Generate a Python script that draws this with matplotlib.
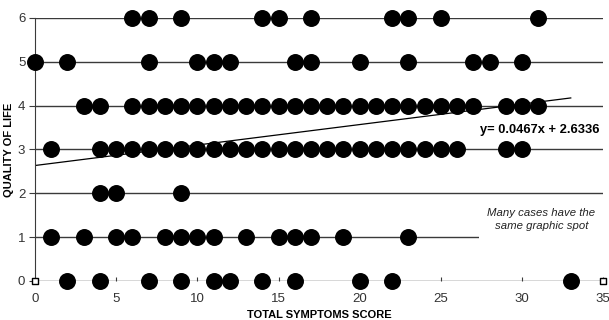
import numpy as np
import matplotlib.pyplot as plt

plt.rcParams['font.family'] = ['Liberation Sans', 'DejaVu Sans']

# symptom scores per quality-of-life level
qol_6 = [6, 7, 9, 14, 15, 17, 22, 23, 25, 31]
qol_5 = [0, 2, 7, 10, 11, 12, 16, 17, 20, 23, 27, 28, 30]
qol_4 = [3, 4] + list(range(6, 28)) + [29, 30, 31]
qol_3 = [1] + list(range(4, 27)) + [29, 30]
qol_2 = [4, 5, 9]
qol_1 = [1, 3, 5, 6, 8, 9, 10, 11, 13, 15, 16, 17, 19, 23]
qol_0 = [2, 4, 7, 9, 11, 12, 14, 16, 20, 22, 33]
rows = {6: qol_6, 5: qol_5, 4: qol_4, 3: qol_3, 2: qol_2, 1: qol_1, 0: qol_0}

slope, intercept = 0.0467, 2.6336
trend_x = [0, 33]

fig = plt.figure(figsize=(6.09, 3.2), dpi=100)
ax = fig.add_axes([0.0575, 0.122, 0.933, 0.822])

for q in range(7):
    ax.plot([0, 35], [q, q], color='#3a3a3a', lw=1.0, zorder=1)

for q, xs in rows.items():
    ax.scatter(xs, [q] * len(xs), s=125, color='black', zorder=3, clip_on=False)

ax.scatter([0, 35], [0, 0], marker='s', s=14, facecolor='white',
           edgecolor='black', lw=1, zorder=4, clip_on=False)

tx = np.array(trend_x)
ax.plot(tx, slope * tx + intercept, color='black', lw=0.9, zorder=2)

ax.text(34.75, 3.45, 'y= 0.0467x + 2.6336', ha='right', va='center',
        fontsize=9.3, fontweight='bold')
ax.text(31.2, 1.40, 'Many cases have the\nsame graphic spot', ha='center',
        va='center', fontsize=8.2, style='italic', color='#222222',
        linespacing=1.45,
        bbox=dict(facecolor='white', edgecolor='none', pad=6), zorder=5)

ax.set_xlim(0, 35)
ax.set_ylim(0, 6)
ax.set_xticks(range(0, 36, 5))
ax.set_yticks(range(0, 7))
for s in ['top', 'right', 'bottom']:
    ax.spines[s].set_visible(False)
ax.spines['left'].set_color('#3a3a3a')
ax.tick_params(axis='x', direction='in', length=3, color='#3a3a3a',
               labelsize=9.5, labelcolor='#333333', pad=9)
ax.tick_params(axis='y', direction='out', length=4, color='#3a3a3a',
               labelsize=9.5, labelcolor='#333333', pad=3)
ax.set_xlabel('TOTAL SYMPTOMS SCORE', fontsize=8, fontweight='bold', labelpad=3)
ax.set_ylabel('QUALITY OF LIFE', fontsize=8, fontweight='bold', labelpad=3)

fig.savefig('out.png', dpi=100)
